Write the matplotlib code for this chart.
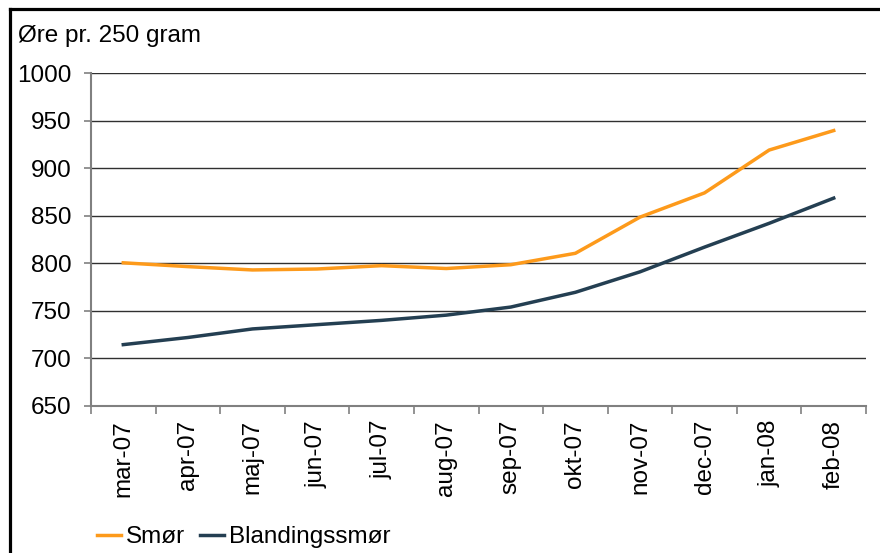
#!/usr/bin/env python3
# -*- coding: utf-8 -*-

import matplotlib
matplotlib.use('Agg')
import matplotlib.pyplot as plt
from matplotlib.lines import Line2D

plt.rcParams['font.family'] = ['Liberation Sans', 'DejaVu Sans']

months = ['mar-07', 'apr-07', 'maj-07', 'jun-07', 'jul-07', 'aug-07',
          'sep-07', 'okt-07', 'nov-07', 'dec-07', 'jan-08', 'feb-08']
smoer = [800.5, 796.5, 793, 794, 797.5, 794.5, 798.5, 810.5, 848.5, 874, 919, 939.5]
blanding = [714.5, 722, 731, 735.5, 740, 745.5, 754, 769.5, 791, 817, 842, 868.5]

ORANGE = '#FD9A1B'
DARK = '#243F52'
FS = 17.5


def main():
    fig = plt.figure(figsize=(8.8, 5.53), dpi=100)
    ax = fig.add_axes([91 / 880, 1 - 406 / 553, (866 - 91) / 880, (406 - 73) / 553])

    x = list(range(len(months)))
    ax.plot(x, smoer, color=ORANGE, lw=2.5, label='Smør', solid_joinstyle='round')
    ax.plot(x, blanding, color=DARK, lw=2.5, label='Blandingssmør', solid_joinstyle='round')

    ax.set_xlim(-0.5, len(months) - 0.5)
    ax.set_ylim(650, 1000)
    ax.set_yticks(range(650, 1001, 50))
    ax.grid(axis='y', color='#303030', lw=1.0)
    ax.set_axisbelow(True)

    # category labels centred, tick marks on the boundaries
    ax.set_xticks(x)
    ax.set_xticklabels(months, rotation=90, fontsize=FS)
    ax.set_xticks([i - 0.5 for i in range(len(months) + 1)], minor=True)
    ax.tick_params(axis='x', which='major', length=0, pad=10)
    ax.tick_params(axis='x', which='minor', length=6, color='#808080', width=1.2, direction='out')
    ax.tick_params(axis='y', length=5, color='#808080', width=1.2, labelsize=FS, pad=9)

    for s in ('top', 'right'):
        ax.spines[s].set_visible(False)
    for s in ('left', 'bottom'):
        ax.spines[s].set_color('#808080')
        ax.spines[s].set_linewidth(1.5)

    fig.text(18 / 880, 1 - 36 / 553, 'Øre pr. 250 gram', fontsize=FS, va='center', ha='left')

    fig.legend(loc='center left', bbox_to_anchor=(97 / 880, 1 - 537 / 553), ncol=2,
               frameon=False, fontsize=FS, handlelength=1.0, handletextpad=0.2,
               columnspacing=0.6, borderpad=0, borderaxespad=0)

    # outer frame (cut at right and bottom edges)
    fy = 1 - 8.5 / 553
    fx = 9.5 / 880
    fig.add_artist(Line2D([fx, fx], [-0.1, fy], transform=fig.transFigure, color='black', lw=2.3))
    fig.add_artist(Line2D([fx, 1.1], [fy, fy], transform=fig.transFigure, color='black', lw=2.3))

    fig.savefig('out.png', dpi=100)


if __name__ == '__main__':
    main()
